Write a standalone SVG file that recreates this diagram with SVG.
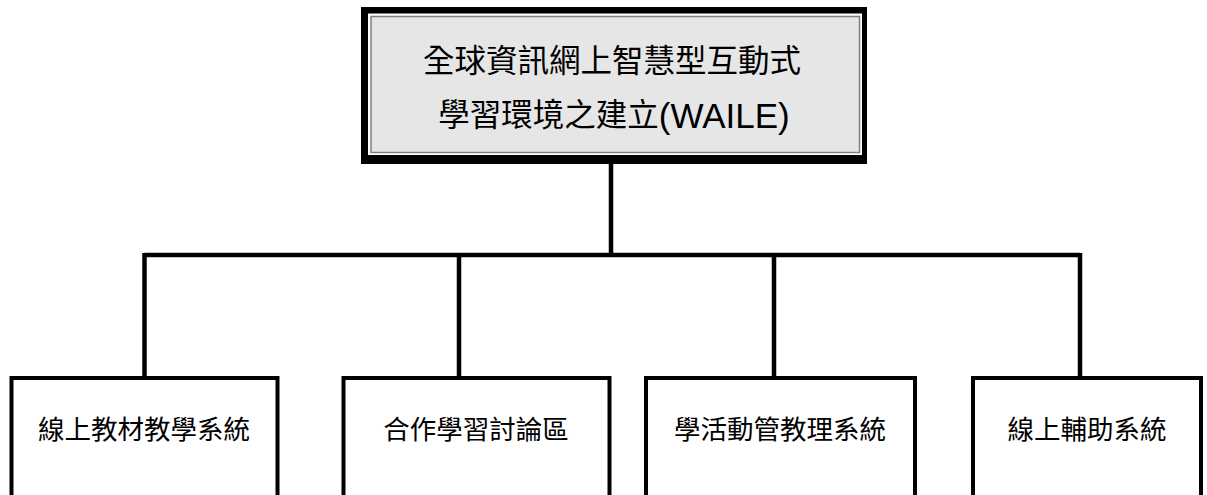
<svg xmlns="http://www.w3.org/2000/svg" width="1207" height="495" viewBox="0 0 1207 495">
<style>
.lbl{font-family:"Liberation Sans","Noto Sans CJK TC",sans-serif;font-size:26.5px;fill:#000;text-anchor:middle;dominant-baseline:central}
.ttl{font-family:"Liberation Sans","Noto Sans CJK TC",sans-serif;font-size:31.5px;fill:#000;text-anchor:middle;dominant-baseline:central}
.lat{font-size:35px}
.box{fill:#fff;stroke:#000;stroke-width:4}
.con{fill:none;stroke:#000;stroke-width:4.5}
</style>
<rect width="1207" height="495" fill="#fff"/>
<g id="connectors">
<line class="con" x1="611" y1="160" x2="611" y2="255"/>
<line class="con" x1="144.5" y1="255" x2="1080" y2="255"/>
<line class="con" x1="144.5" y1="253" x2="144.5" y2="378"/>
<line class="con" x1="459" y1="255" x2="459" y2="378"/>
<line class="con" x1="774" y1="255" x2="774" y2="378"/>
<line class="con" x1="1080" y1="253" x2="1080" y2="378"/>
</g>
<g id="root">
<rect x="361" y="7" width="506" height="157" fill="#000"/>
<rect x="368" y="13.5" width="494" height="141.5" fill="#fff"/>
<rect x="371" y="16.5" width="488.5" height="136" fill="#e6e6e6" stroke="#7f7f7f" stroke-width="1.5"/>
<text class="ttl" x="612" y="61">全球資訊網上智慧型互動式</text>
<text class="ttl" x="614" y="115">學習環境之建立<tspan class="lat">(WAILE)</tspan></text>
</g>
<g id="n1">
<rect class="box" x="11.5" y="378" width="266" height="140"/>
<text class="lbl" x="144" y="430">線上教材教學系統</text>
</g>
<g id="n2">
<rect class="box" x="343.5" y="378" width="266" height="140"/>
<text class="lbl" x="476" y="430">合作學習討論區</text>
</g>
<g id="n3">
<rect class="box" x="646" y="378" width="269" height="140"/>
<text class="lbl" x="780" y="430">學活動管教理系統</text>
</g>
<g id="n4">
<rect class="box" x="973" y="378" width="228" height="140"/>
<text class="lbl" x="1087" y="430">線上輔助系統</text>
</g>
</svg>
